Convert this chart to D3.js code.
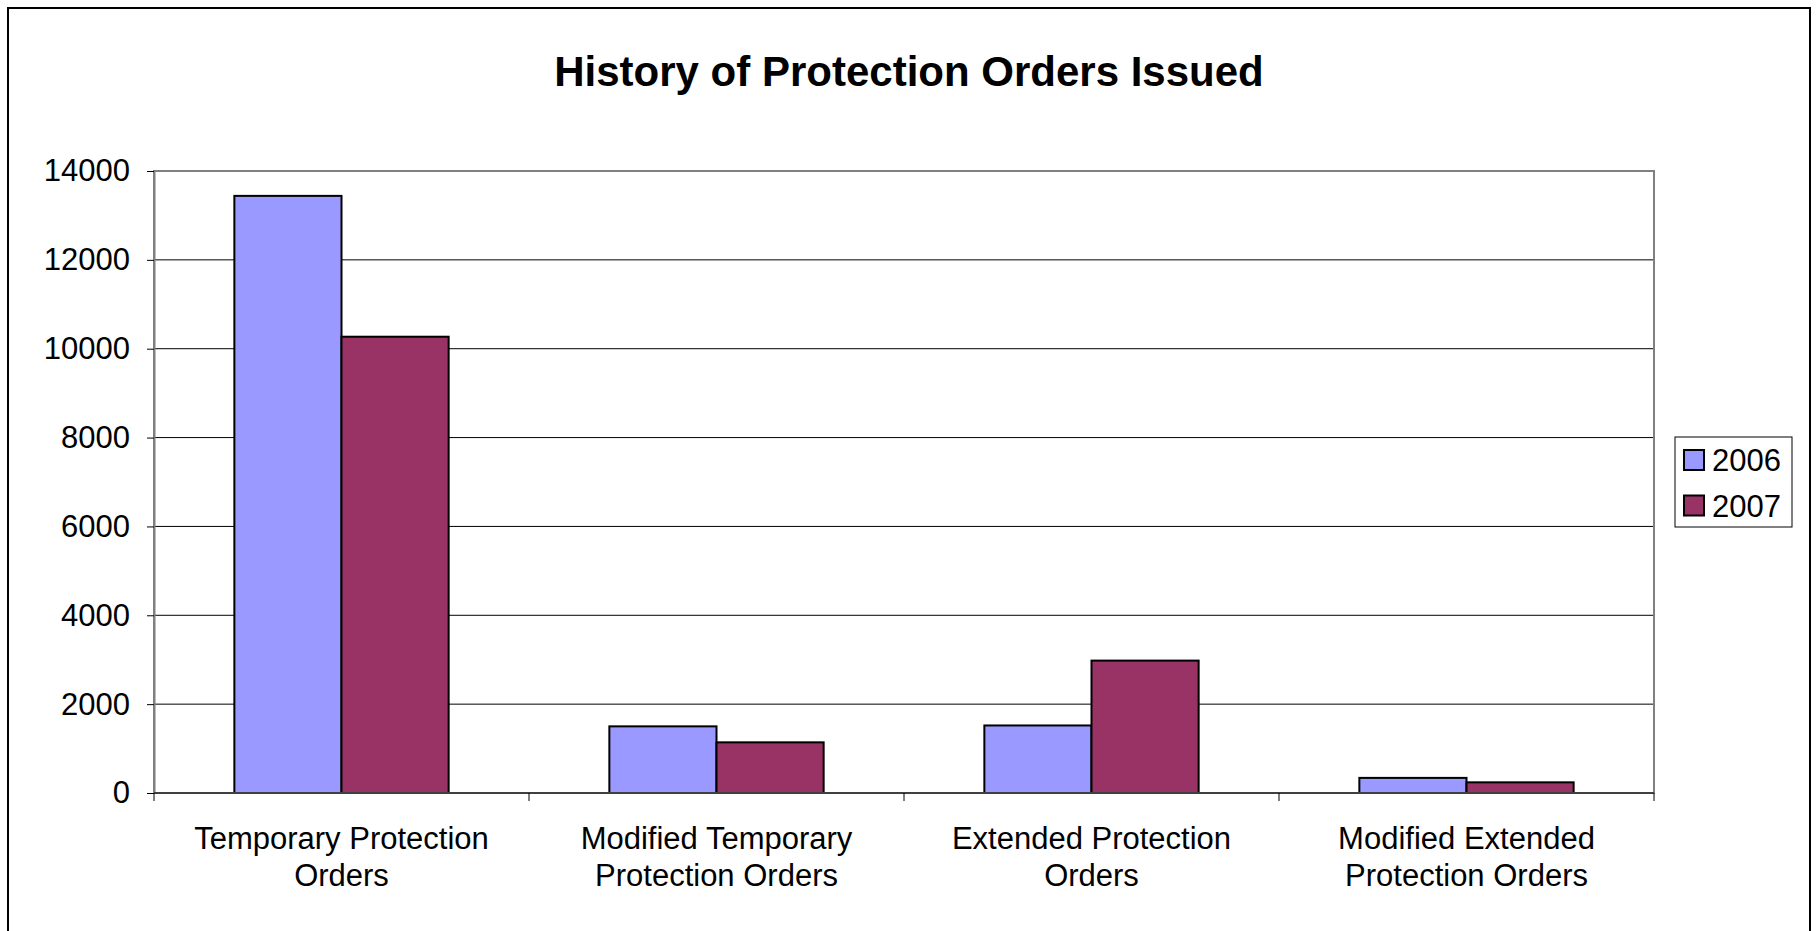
<!DOCTYPE html>
<html>
<head>
<meta charset="utf-8">
<script src="https://cdn.jsdelivr.net/npm/d3@7"></script>
<style>
  body { margin: 0; background: #fff; }
  text { font-family: "Liberation Sans", Arial, sans-serif; fill: #000; }
</style>
</head>
<body>
<div id="chart"></div>
<script>
var categories = [
  ["Temporary Protection", "Orders"],
  ["Modified Temporary", "Protection Orders"],
  ["Extended Protection", "Orders"],
  ["Modified Extended", "Protection Orders"]
];
var seriesNames = ["2006", "2007"];
var values2006 = [13440, 1500, 1520, 340];
var values2007 = [10270, 1140, 2980, 240];
var yTicks = [0, 2000, 4000, 6000, 8000, 10000, 12000, 14000];
var colors = ["#9999ff", "#993366"];

var svgWidth = 1816;
var svgHeight = 931;

var plot = { left: 154, top: 171, right: 1654, bottom: 793 };
var width = plot.right - plot.left;
var height = plot.bottom - plot.top;

var svg = d3.select("#chart")
  .append("svg")
  .attr("width", svgWidth)
  .attr("height", svgHeight);

// outer frame (runs off the bottom like the original)
svg.append("rect")
  .attr("x", 8)
  .attr("y", 8)
  .attr("width", 1802)
  .attr("height", 960)
  .attr("fill", "none")
  .attr("stroke", "#000")
  .attr("stroke-width", 2);

svg.append("text")
  .attr("x", 909)
  .attr("y", 86)
  .attr("text-anchor", "middle")
  .style("font-size", "42px")
  .style("font-weight", "bold")
  .text("History of Protection Orders Issued");

var chartGroup = svg.append("g")
  .attr("transform", `translate(${plot.left}, ${plot.top})`);

var yScale = d3.scaleLinear()
  .domain([0, 14000])
  .range([height, 0]);

var x0 = d3.scaleBand()
  .domain(d3.range(categories.length))
  .range([0, width])
  .padding(0);

// gap width 150% -> bar = category / 3.5
var x1 = d3.scaleBand()
  .domain(seriesNames)
  .range([0, x0.bandwidth()])
  .paddingInner(0)
  .paddingOuter(0.75);

// gridlines
chartGroup.selectAll(".grid")
  .data(yTicks.slice(1))
  .enter()
  .append("line")
  .attr("x1", 0)
  .attr("x2", width)
  .attr("y1", d => yScale(d))
  .attr("y2", d => yScale(d))
  .attr("stroke", "#000")
  .attr("stroke-width", 1);

// plot border
chartGroup.append("rect")
  .attr("width", width)
  .attr("height", height)
  .attr("fill", "none")
  .attr("stroke", "#808080")
  .attr("stroke-width", 2);

// bars
var data = categories.map(function(c, i) {
  return [values2006[i], values2007[i]];
});

var groups = chartGroup.selectAll(".cat")
  .data(data)
  .enter()
  .append("g")
  .attr("transform", (d, i) => `translate(${x0(i)}, 0)`);

groups.selectAll("rect")
  .data(d => d.map((v, j) => ({ key: seriesNames[j], value: v, j: j })))
  .enter()
  .append("rect")
  .attr("x", d => x1(d.key))
  .attr("y", d => yScale(d.value))
  .attr("width", x1.bandwidth())
  .attr("height", d => height - yScale(d.value))
  .attr("fill", d => colors[d.j])
  .attr("stroke", "#000")
  .attr("stroke-width", 2);

// y axis
var leftAxis = d3.axisLeft(yScale)
  .tickValues(yTicks)
  .tickSizeInner(7)
  .tickSizeOuter(0)
  .tickPadding(17)
  .tickFormat(d3.format("d"));

var yAxis = chartGroup.append("g").call(leftAxis);
yAxis.select(".domain").attr("stroke", "#808080").attr("stroke-width", 2);
yAxis.selectAll(".tick line").attr("stroke", "#000");
yAxis.selectAll("text")
  .style("font-family", "'Liberation Sans', Arial, sans-serif")
  .style("font-size", "31px");

// x axis line and category boundary ticks
chartGroup.append("line")
  .attr("x1", 0)
  .attr("x2", width)
  .attr("y1", height)
  .attr("y2", height)
  .attr("stroke", "#404040")
  .attr("stroke-width", 2);

chartGroup.selectAll(".xtick")
  .data(d3.range(categories.length + 1))
  .enter()
  .append("line")
  .attr("x1", d => d < categories.length ? x0(d) : width)
  .attr("x2", d => d < categories.length ? x0(d) : width)
  .attr("y1", height)
  .attr("y2", height + 8)
  .attr("stroke", "#000")
  .attr("stroke-width", 1);

var labels = chartGroup.selectAll(".xlabel")
  .data(categories)
  .enter()
  .append("text")
  .attr("text-anchor", "middle")
  .attr("transform", (d, i) => `translate(${x0(i) + x0.bandwidth() / 2}, ${height + 56})`)
  .style("font-size", "31px");

labels.selectAll("tspan")
  .data(d => d)
  .enter()
  .append("tspan")
  .attr("x", 0)
  .attr("y", (d, i) => i * 37)
  .text(d => d);

// legend
var legend = svg.append("g").attr("transform", "translate(1675, 437)");
legend.append("rect")
  .attr("width", 117)
  .attr("height", 90)
  .attr("fill", "#fff")
  .attr("stroke", "#000")
  .attr("stroke-width", 1);

var items = legend.selectAll(".item")
  .data(seriesNames)
  .enter()
  .append("g")
  .attr("transform", (d, i) => `translate(9, ${13 + i * 45.5})`);

items.append("rect")
  .attr("width", 20)
  .attr("height", 20)
  .attr("fill", (d, i) => colors[i])
  .attr("stroke", "#000")
  .attr("stroke-width", 2);

items.append("text")
  .attr("x", 28)
  .attr("y", 21)
  .style("font-size", "31px")
  .text(d => d);
</script>
</body>
</html>
